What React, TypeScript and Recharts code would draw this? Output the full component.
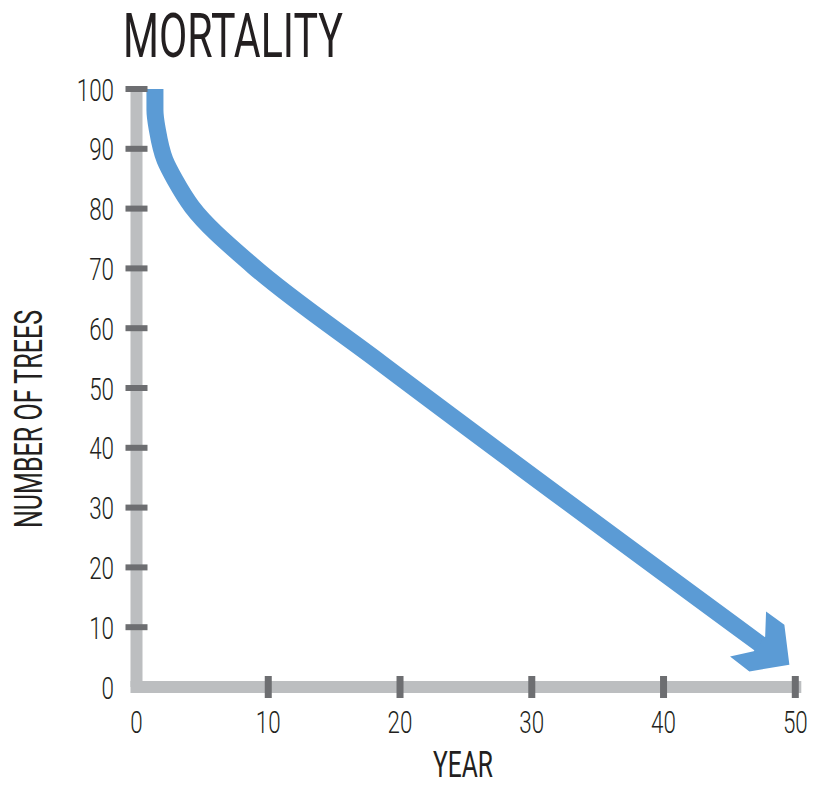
import React from 'react';
import { LineChart, Line, XAxis, YAxis, Customized } from 'recharts';

const years = [1.4, 1.4, 1.59, 2.16, 2.92, 4.21, 8.84, 18.47, 47.5];
const trees = [100, 96.5, 93.1, 88.1, 84.8, 80.3, 70.4, 54.3, 6.9];
const xTicks = [0, 10, 20, 30, 40, 50];
const yTicks = [0, 10, 20, 30, 40, 50, 60, 70, 80, 90, 100];
const title = 'MORTALITY';
const xLabel = 'YEAR';
const yLabel = 'NUMBER OF TREES';

const data = years.map((y, i) => ({ year: y, trees: trees[i] }));

const TEXT = '#231f20';
const AXIS = '#bcbec0';
const TICK = '#6d6e71';
const BLUE = '#5b9bd5';
const SX = 0.7;

const TickText = ({ x, y, s, anchor }: { x: number; y: number; s: string; anchor: 'end' | 'middle' }) => (
  <text
    transform={`translate(${x},${y}) scale(${SX},1)`}
    x={0}
    y={0}
    textAnchor={anchor}
    fontFamily="Roboto"
    fontWeight={300}
    fontSize={32}
    fill={TEXT}
  >
    {s}
  </text>
);

const YTick = (props: any) => {
  const { x, y, payload } = props;
  const v = payload.value;
  const s = String(v);
  return (
    <g>
      {v !== 0 && <rect x={x - 11} y={y - 3} width={22} height={6} fill={TICK} />}
      <TickText x={x - 22.5} y={y + 11.5} s={s} anchor="end" />
    </g>
  );
};

const XTick = (props: any) => {
  const { x, y, payload } = props;
  const v = payload.value;
  const s = String(v);
  return (
    <g>
      {v !== 0 && <rect x={x - 3.5} y={y - 11} width={7} height={22} fill={TICK} />}
      <TickText x={x} y={y + 46} s={s} anchor="middle" />
    </g>
  );
};

const ArrowDot = (props: any) => {
  const { cx, cy, index } = props;
  if (index !== data.length - 1 || cx == null || cy == null) return <g key={`d${index}`} />;
  const pts = [
    [3.7, -34.3],
    [22, -21],
    [27, 19],
    [-13, 25.7],
    [-32.3, 10.7],
    [-8.7, 5.6],
    [2.8, -8.9],
  ]
    .map(([dx, dy]) => `${cx + dx},${cy + dy}`)
    .join(' ');
  return <polygon key={`d${index}`} points={pts} fill={BLUE} />;
};

const Labels = () => (
  <g>
    <text
      x={123}
      y={57}
      fontFamily="Roboto"
      fontWeight={400}
      fontSize={62}
      fill={TEXT}
      textLength={220}
      lengthAdjust="spacingAndGlyphs"
    >
      {title}
    </text>
    <text
      x={463}
      y={777}
      textAnchor="middle"
      fontFamily="Roboto"
      fontWeight={400}
      fontSize={37}
      fill={TEXT}
      textLength={60}
      lengthAdjust="spacingAndGlyphs"
    >
      {xLabel}
    </text>
    <text
      x={42}
      y={419}
      textAnchor="middle"
      transform="rotate(-90, 42, 419)"
      fontFamily="Roboto"
      fontWeight={400}
      fontSize={38}
      fill={TEXT}
      textLength={218}
      lengthAdjust="spacingAndGlyphs"
    >
      {yLabel}
    </text>
  </g>
);

export default function App() {
  return (
    <div style={{ position: 'absolute', left: 0, top: 0, width: 815, height: 786, background: '#fff' }}>
      <LineChart
        width={815}
        height={786}
        data={data}
        margin={{ top: 89, right: 19.7, bottom: 39, left: 76.5 }}
      >
        <XAxis
          dataKey="year"
          type="number"
          domain={[0, 50]}
          ticks={xTicks}
          height={60}
          tickSize={0}
          tickMargin={0}
          tickLine={false}
          axisLine={{ stroke: AXIS, strokeWidth: 12, strokeLinecap: 'square' } as any}
          tick={<XTick />}
          interval={0}
        />
        <YAxis
          type="number"
          domain={[0, 100]}
          ticks={yTicks}
          width={60}
          tickSize={0}
          tickMargin={0}
          tickLine={false}
          axisLine={{ stroke: AXIS, strokeWidth: 12 }}
          tick={<YTick />}
          interval={0}
        />
        <Line
          dataKey="trees"
          type="monotoneY"
          stroke={BLUE}
          strokeWidth={17}
          strokeLinecap="butt"
          strokeLinejoin="round"
          dot={<ArrowDot />}
          activeDot={false}
          isAnimationActive={false}
        />
        <Customized component={<Labels />} />
      </LineChart>
    </div>
  );
}
